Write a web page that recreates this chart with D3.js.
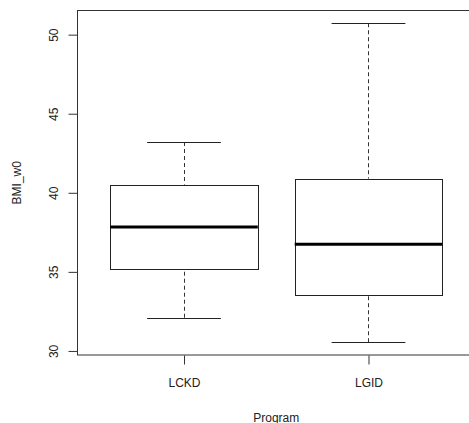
<!DOCTYPE html>
<html>
<head>
<meta charset="utf-8">
<script src="https://cdn.jsdelivr.net/npm/d3@7"></script>
<style>
  body { margin: 0; background: #fff; }
  svg text { font-family: "Liberation Sans", Arial, sans-serif; font-size: 12px; fill: #222; }
</style>
</head>
<body>
<svg id="chart" width="469" height="423"></svg>
<script>

// box stats
var programs = ["LCKD", "LGID"];
var whisker_lo = [32.1, 30.55];
var q1 = [35.15, 33.55];
var medians = [37.83, 36.75];
var q3 = [40.52, 40.9];
var whisker_hi = [43.21, 50.72];
var y_ticks = [30, 35, 40, 45, 50];

var svg = d3.select("#chart");

// plot region, as R lays it out (right edge falls past the window)
// (no plain "top" here: window.top is read-only)
var plot_left = 77, plot_right = 475.5, plot_top = 10.5, plot_bottom = 355;

var x = d3.scaleLinear().domain([0.42, 2.58]).range([plot_left, plot_right]);

// R's 4% extension of the data range
var lo = d3.min(whisker_lo), hi = d3.max(whisker_hi);
var pad = (hi - lo) * 0.04;
var y = d3.scaleLinear().domain([lo - pad, hi + pad]).range([plot_bottom, plot_top]);

var boxes = programs.map(function(p, i) {
    return { name: p, pos: i + 1, lo: whisker_lo[i], q1: q1[i], med: medians[i], q3: q3[i], hi: whisker_hi[i] };
});

var g = svg.append("g");

// whiskers
g.selectAll(".whisker")
    .data(boxes)
    .enter().append("g")
    .each(function(d) {
        var sel = d3.select(this);
        var cx = Math.round(x(d.pos)) + 0.5;
        [[d.hi, d.q3], [d.lo, d.q1]].forEach(function(seg) {
            sel.append("line")
                .attr("x1", cx).attr("x2", cx)
                .attr("y1", y(seg[0])).attr("y2", y(seg[1]))
                .attr("stroke", "#333")
                .attr("stroke-dasharray", "4,3");
        });
        [d.hi, d.lo].forEach(function(v) {
            sel.append("line")
                .attr("x1", x(d.pos - 0.2)).attr("x2", x(d.pos + 0.2))
                .attr("y1", Math.round(y(v)) + 0.5).attr("y2", Math.round(y(v)) + 0.5)
                .attr("stroke", "#222");
        });
    });

// boxes
g.selectAll(".box")
    .data(boxes)
    .enter().append("rect")
    .attr("x", function(d) { return Math.round(x(d.pos - 0.4)) + 0.5; })
    .attr("y", function(d) { return Math.round(y(d.q3)) + 0.5; })
    .attr("width", function(d) { return Math.round(x(d.pos + 0.4)) - Math.round(x(d.pos - 0.4)); })
    .attr("height", function(d) { return Math.round(y(d.q1)) - Math.round(y(d.q3)); })
    .attr("fill", "#fff")
    .attr("stroke", "#222");

// medians
g.selectAll(".median")
    .data(boxes)
    .enter().append("line")
    .attr("x1", function(d) { return x(d.pos - 0.4); })
    .attr("x2", function(d) { return x(d.pos + 0.4); })
    .attr("y1", function(d) { return y(d.med); })
    .attr("y2", function(d) { return y(d.med); })
    .attr("stroke", "#000")
    .attr("stroke-width", 3);

// frame
svg.append("rect")
    .attr("x", plot_left + 0.5).attr("y", plot_top)
    .attr("width", plot_right - plot_left).attr("height", plot_bottom - plot_top)
    .attr("fill", "none")
    .attr("stroke", "#333");

// y axis
var yAxis = svg.append("g")
    .attr("transform", "translate(" + (plot_left + 0.5) + ",0)")
    .call(d3.axisLeft(y).tickValues(y_ticks).tickSize(9).tickPadding(0).tickSizeOuter(0));
yAxis.select(".domain").attr("d", "M0," + y(30) + "V" + y(50)).attr("stroke", "#333");
yAxis.selectAll(".tick line").attr("stroke", "#333");
yAxis.selectAll(".tick text")
    .attr("x", null).attr("dy", null)
    .attr("text-anchor", "middle")
    .attr("transform", "translate(-20,0) rotate(-90)")
    .attr("font-size", 12).attr("font-family", "Liberation Sans, Arial, sans-serif").attr("fill", "#222");

// x axis
var xAxis = svg.append("g")
    .attr("transform", "translate(0," + (plot_bottom + 0.5) + ")")
    .call(d3.axisBottom(x).tickValues([1, 2]).tickFormat(function(d) { return programs[d - 1]; })
        .tickSize(9).tickPadding(0).tickSizeOuter(0));
xAxis.select(".domain").remove();
xAxis.selectAll(".tick line").attr("stroke", "#333");
xAxis.selectAll(".tick text")
    .attr("y", 31).attr("dy", null)
    .attr("font-size", 12).attr("font-family", "Liberation Sans, Arial, sans-serif").attr("fill", "#222");

// axis titles
svg.append("text")
    .attr("x", (plot_left + plot_right) / 2).attr("y", 421.5)
    .attr("text-anchor", "middle")
    .text("Program");

svg.append("text")
    .attr("transform", "translate(21," + ((plot_top + plot_bottom) / 2) + ") rotate(-90)")
    .attr("text-anchor", "middle")
    .text("BMI_w0");

</script>
</body>
</html>
